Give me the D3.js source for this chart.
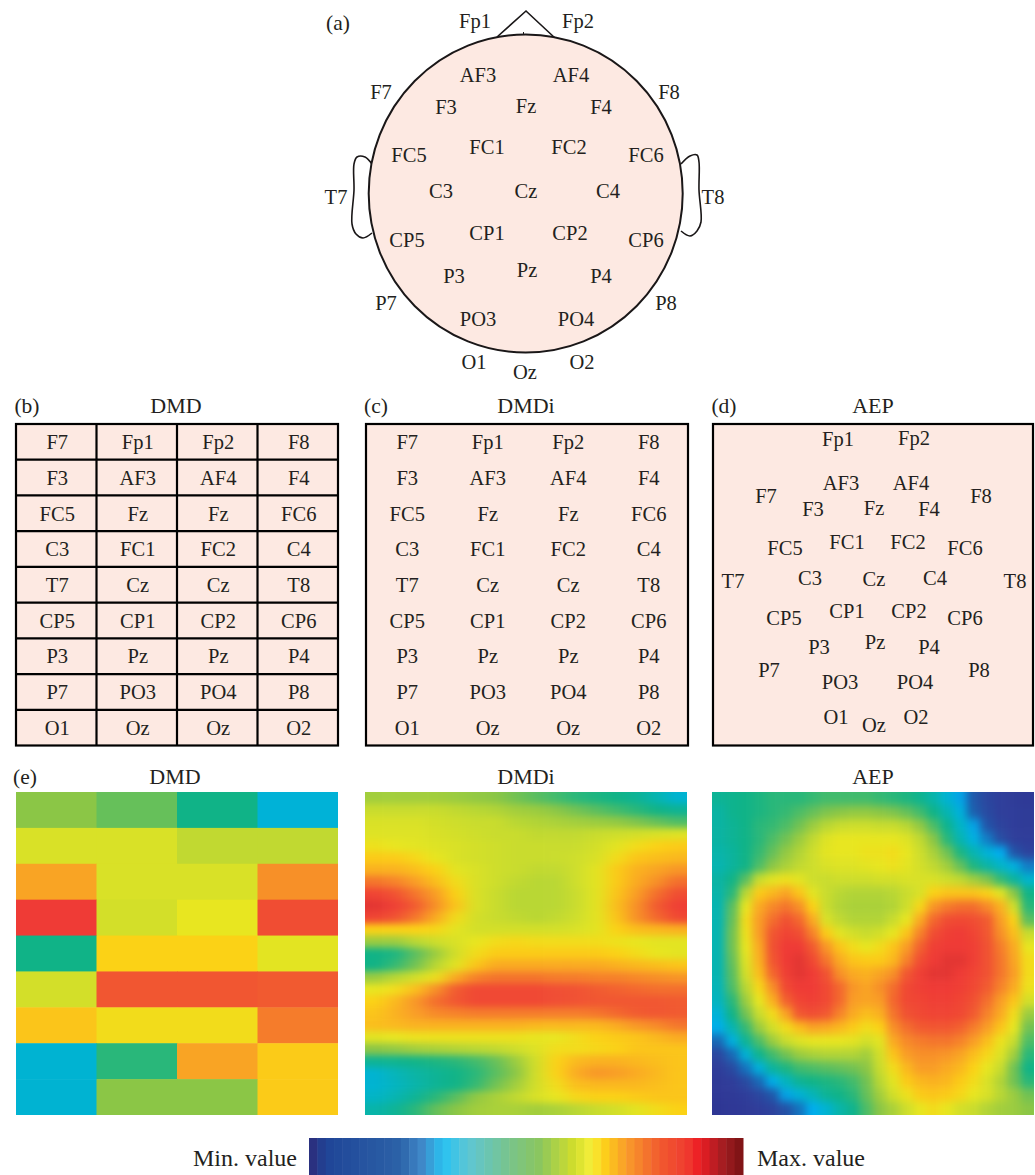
<!DOCTYPE html>
<html>
<head>
<meta charset="utf-8">
<title>EEG channel maps</title>
<script src="https://cdn.jsdelivr.net/npm/d3@7"></script>
<style>
  html, body { margin: 0; padding: 0; background: #fff; }
  svg { display: block; }
  text { font-family: "Liberation Serif", serif; fill: #231f20; }
</style>
</head>
<body>
<div id="chart"></div>
<script>
// channel order used by the (b), (c) grids and the DMD heat map
var gridRows = [
  ["F7", "Fp1", "Fp2", "F8"],
  ["F3", "AF3", "AF4", "F4"],
  ["FC5", "Fz", "Fz", "FC6"],
  ["C3", "FC1", "FC2", "C4"],
  ["T7", "Cz", "Cz", "T8"],
  ["CP5", "CP1", "CP2", "CP6"],
  ["P3", "Pz", "Pz", "P4"],
  ["P7", "PO3", "PO4", "P8"],
  ["O1", "Oz", "Oz", "O2"]
];

// head map labels, panel (a)
var headLabels = ["Fp1", "Fp2", "AF3", "AF4", "F7", "F8", "F3", "Fz", "F4", "FC1", "FC2", "FC5", "FC6", "T7", "T8", "C3", "Cz", "C4", "CP1", "CP2", "CP5", "CP6", "P3", "Pz", "P4", "P7", "P8", "PO3", "PO4", "O1", "O2", "Oz"];
var headX = [475, 578, 478, 571, 381, 669, 446, 526, 601, 487, 569, 409, 646, 336, 713, 441, 526, 608, 487, 570, 407, 646, 454, 527, 601, 386, 666, 478, 576, 474, 582, 525];
var headY = [21, 21, 75, 75, 92, 92, 107, 106, 107, 147, 147, 155, 155, 197, 197, 191, 191, 191, 233, 233, 240, 240, 276, 270, 276, 303, 303, 319, 319, 362, 362, 372];

// AEP projection labels, panel (d)
var aepLabels = ["Fp1", "Fp2", "AF3", "AF4", "F7", "F8", "F3", "Fz", "F4", "FC1", "FC2", "FC5", "FC6", "T7", "T8", "C3", "Cz", "C4", "CP1", "CP2", "CP5", "CP6", "P3", "Pz", "P4", "P7", "P8", "PO3", "PO4", "O1", "O2", "Oz"];
var aepX = [838, 914, 841, 911, 766, 981, 813, 874, 929, 847, 908, 785, 965, 733, 1015, 810, 874, 935, 847, 909, 784, 965, 819, 875, 929, 769, 979, 840, 915, 836, 916, 874];
var aepY = [439, 438, 483, 483, 496, 496, 509, 508, 509, 542, 542, 548, 548, 581, 581, 578, 579, 578, 611, 611, 618, 618, 647, 642, 647, 670, 670, 682, 682, 717, 717, 725];

// heat map values, 0 = min, 1 = max
var dmdValues = [
  [.52, .49, .42, .30],
  [.63, .63, .59, .59],
  [.77, .63, .63, .80],
  [.95, .62, .66, .91],
  [.42, .70, .70, .65],
  [.62, .89, .89, .88],
  [.72, .68, .68, .83],
  [.31, .44, .77, .71],
  [.31, .52, .52, .71]
];

var dmdiValues = [
  [.55,.55,.55,.55,.54,.53,.52,.50,.48,.46,.44,.43,.42,.40,.36,.31],
  [.60,.60,.60,.60,.59,.58,.57,.55,.54,.52,.50,.48,.46,.44,.42,.40],
  [.63,.63,.63,.62,.61,.60,.60,.58,.57,.56,.55,.54,.53,.51,.49,.47],
  [.64,.64,.64,.63,.62,.61,.60,.60,.59,.59,.59,.60,.61,.62,.63,.64],
  [.67,.66,.65,.64,.63,.62,.61,.60,.60,.60,.60,.62,.65,.68,.70,.71],
  [.71,.71,.69,.66,.63,.62,.61,.60,.60,.60,.61,.63,.68,.72,.73,.74],
  [.75,.75,.73,.70,.65,.63,.61,.60,.59,.59,.61,.65,.71,.75,.77,.79],
  [.84,.82,.78,.73,.68,.63,.61,.59,.58,.58,.61,.65,.71,.76,.80,.85],
  [.93,.90,.84,.78,.70,.63,.60,.58,.58,.58,.60,.65,.72,.78,.85,.91],
  [.96,.94,.88,.80,.72,.63,.60,.58,.58,.58,.60,.65,.73,.80,.88,.94],
  [.93,.90,.84,.76,.68,.62,.60,.59,.58,.59,.61,.65,.72,.80,.86,.92],
  [.70,.70,.70,.69,.65,.62,.62,.62,.62,.62,.63,.65,.70,.73,.74,.75],
  [.54,.54,.58,.61,.63,.66,.68,.69,.68,.68,.68,.68,.67,.66,.65,.65],
  [.42,.43,.48,.54,.62,.68,.71,.71,.71,.71,.71,.71,.70,.68,.66,.65],
  [.42,.45,.50,.58,.65,.72,.76,.76,.76,.76,.76,.76,.75,.74,.73,.72],
  [.54,.58,.62,.67,.76,.82,.84,.84,.84,.83,.83,.82,.82,.81,.80,.79],
  [.66,.68,.73,.80,.88,.92,.92,.92,.92,.91,.90,.88,.87,.86,.85,.85],
  [.70,.74,.79,.85,.89,.92,.92,.92,.92,.91,.90,.89,.89,.89,.89,.88],
  [.72,.75,.78,.81,.82,.83,.83,.83,.83,.83,.83,.84,.86,.88,.89,.88],
  [.73,.74,.75,.75,.75,.75,.75,.75,.74,.74,.74,.74,.76,.79,.81,.84],
  [.65,.66,.67,.67,.67,.67,.67,.67,.66,.66,.68,.70,.71,.72,.74,.76],
  [.52,.53,.55,.56,.57,.58,.59,.61,.64,.68,.68,.69,.70,.72,.72,.72],
  [.40,.41,.42,.43,.44,.46,.49,.54,.62,.70,.74,.75,.75,.74,.73,.72],
  [.31,.35,.38,.40,.42,.44,.48,.52,.62,.70,.76,.79,.78,.76,.74,.72],
  [.31,.34,.37,.40,.42,.45,.50,.55,.62,.68,.73,.74,.74,.74,.73,.72],
  [.33,.36,.40,.44,.48,.53,.56,.59,.63,.66,.69,.70,.70,.71,.72,.72],
  [.37,.40,.44,.49,.52,.55,.56,.56,.55,.56,.58,.60,.62,.65,.68,.70]
];

var aepValues = [
  [.40,.41,.42,.43,.44,.44,.44,.45,.46,.46,.46,.46,.45,.44,.43,.41,.37,.31,.24,.15,.10,.08,.06,.05],
  [.38,.41,.42,.43,.44,.45,.47,.49,.51,.52,.53,.53,.52,.51,.49,.46,.42,.36,.29,.17,.11,.08,.07,.06],
  [.38,.40,.42,.44,.45,.47,.50,.54,.58,.60,.61,.61,.60,.60,.58,.53,.47,.41,.33,.24,.14,.09,.07,.06],
  [.38,.40,.42,.44,.47,.50,.54,.59,.64,.66,.66,.66,.66,.66,.64,.59,.52,.44,.36,.28,.20,.12,.08,.07],
  [.37,.39,.42,.45,.49,.53,.57,.61,.65,.66,.66,.67,.67,.68,.66,.61,.56,.50,.43,.36,.30,.25,.14,.09],
  [.36,.39,.42,.47,.52,.56,.59,.61,.63,.64,.64,.65,.66,.67,.65,.62,.59,.55,.49,.43,.38,.33,.28,.20],
  [.38,.42,.48,.60,.65,.67,.65,.61,.60,.61,.61,.61,.62,.62,.63,.63,.63,.61,.59,.55,.51,.45,.39,.32],
  [.37,.44,.58,.71,.74,.77,.72,.65,.60,.58,.57,.57,.57,.58,.60,.63,.70,.72,.72,.72,.70,.65,.52,.42],
  [.36,.48,.66,.76,.81,.84,.80,.70,.60,.57,.56,.56,.56,.57,.61,.69,.79,.83,.85,.85,.81,.75,.62,.44],
  [.36,.49,.68,.78,.85,.90,.86,.76,.63,.59,.57,.57,.57,.60,.66,.76,.86,.91,.92,.91,.88,.78,.70,.48],
  [.36,.50,.67,.78,.89,.93,.91,.82,.71,.65,.62,.60,.62,.66,.72,.82,.91,.94,.95,.93,.89,.80,.73,.60],
  [.36,.50,.66,.76,.90,.95,.95,.88,.79,.72,.68,.66,.68,.72,.78,.87,.94,.95,.95,.94,.90,.83,.76,.66],
  [.36,.49,.64,.75,.89,.95,.96,.92,.84,.76,.72,.71,.71,.74,.82,.91,.95,.96,.96,.94,.90,.84,.77,.68],
  [.36,.48,.62,.73,.86,.94,.96,.95,.90,.80,.76,.75,.77,.80,.89,.94,.96,.96,.95,.93,.90,.84,.78,.68],
  [.35,.47,.58,.69,.80,.92,.95,.95,.92,.86,.79,.77,.80,.85,.92,.94,.95,.95,.94,.92,.88,.82,.76,.67],
  [.34,.44,.54,.66,.75,.87,.93,.94,.92,.86,.78,.77,.78,.86,.92,.93,.94,.94,.93,.90,.85,.78,.72,.62],
  [.30,.42,.50,.60,.68,.77,.89,.91,.89,.82,.76,.73,.75,.84,.90,.92,.93,.93,.92,.88,.82,.76,.68,.54],
  [.26,.36,.45,.54,.62,.68,.73,.77,.76,.74,.71,.68,.70,.80,.85,.88,.89,.89,.87,.83,.78,.72,.66,.50],
  [.18,.28,.40,.47,.54,.60,.64,.66,.66,.66,.65,.62,.65,.76,.81,.83,.84,.84,.82,.78,.73,.67,.60,.47],
  [.10,.18,.30,.41,.46,.50,.54,.56,.57,.57,.57,.55,.62,.72,.78,.80,.80,.79,.77,.73,.69,.64,.55,.44],
  [.07,.11,.19,.29,.39,.43,.46,.47,.48,.49,.50,.52,.60,.68,.74,.78,.78,.76,.74,.70,.66,.60,.50,.42],
  [.05,.07,.11,.18,.26,.34,.40,.42,.43,.44,.46,.50,.58,.65,.71,.74,.75,.74,.71,.68,.63,.57,.50,.44],
  [.04,.05,.07,.10,.15,.24,.30,.35,.40,.42,.44,.49,.55,.62,.67,.71,.72,.71,.69,.66,.63,.58,.54,.50],
  [.03,.04,.05,.07,.09,.13,.19,.25,.31,.37,.41,.47,.52,.56,.61,.66,.68,.66,.62,.60,.57,.55,.54,.52]
];

// colour ramps
var heatStops = [0, .08, .17, .25, .32, .42, .52, .60, .66, .70, .78, .88, .95, 1];
var heatColors = ["#2e3190", "#2f3f9b", "#1c5fae", "#00aeef", "#00b4cd", "#10b387", "#8bc646", "#c9dc2e", "#e8e620", "#fbd216", "#f99d26", "#f15a30", "#ef3b36", "#b52025"];
var legendStops = [0, .03, .2, .25, .3, .36, .45, .52, .6, .64, .67, .72, .8, .86, .89, .94, 1];
var legendColors = ["#2a3180", "#1f4597", "#2c62a8", "#3f88c8", "#29c3f2", "#5fc6d2", "#78c48d", "#8ac65f", "#d0dd2c", "#f5ee3a", "#fdd11a", "#f99d2a", "#f1592f", "#ef3d30", "#ed1c24", "#a81e22", "#6e0f10"];
var legendSteps = d3.range(0, 1, 1 / 52);

var inkColor = "#1a1718",
    skinColor = "#fde9e2",
    fontSize = 20.5,
    titleSize = 22;

var svg = d3.select("#chart").append("svg")
    .attr("width", 1035)
    .attr("height", 1175);

var defs = svg.append("defs");

var heatColor = d3.scaleLinear().domain(heatStops).range(heatColors).clamp(true);
var legendColor = d3.scaleLinear().domain(legendStops).range(legendColors);

function label(g, text, x, y, size) {
  return g.append("text")
      .attr("x", x)
      .attr("y", y)
      .attr("dy", "0.33em")
      .attr("text-anchor", "middle")
      .attr("font-size", size || fontSize)
      .text(text);
}

function _drawHead() {
  var g = svg.append("g").attr("class", "head");
  var line = d3.line().curve(d3.curveCatmullRom.alpha(0.5));

  // nose and ears go behind the scalp
  g.append("path")
      .attr("d", d3.line()([[497, 37], [526, 11], [555, 38]]))
      .attr("fill", "none").attr("stroke", inkColor).attr("stroke-width", 1.6);
  g.append("path")
      .attr("d", line([[372, 164], [365, 157], [357, 157], [354, 164], [354, 190], [352, 224], [356, 234], [363, 238], [372, 233]]))
      .attr("fill", "none").attr("stroke", inkColor).attr("stroke-width", 1.6);
  g.append("path")
      .attr("d", line([[681, 164], [690, 156], [697, 155], [699, 162], [699, 190], [701, 222], [697, 231], [690, 236], [681, 231]]))
      .attr("fill", "none").attr("stroke", inkColor).attr("stroke-width", 1.6);

  g.append("ellipse")
      .attr("cx", 525.7)
      .attr("cy", 193.5)
      .attr("rx", 157)
      .attr("ry", 159)
      .attr("fill", skinColor)
      .attr("stroke", inkColor)
      .attr("stroke-width", 2);

  g.append("line")
      .attr("x1", 523.5).attr("x2", 523.5)
      .attr("y1", 32).attr("y2", 35)
      .attr("stroke", inkColor).attr("stroke-width", 1);

  g.selectAll("text.ch").data(headLabels).enter().append("text")
      .attr("class", "ch")
      .attr("x", function (d, i) { return headX[i]; })
      .attr("y", function (d, i) { return headY[i]; })
      .attr("dy", "0.33em")
      .attr("text-anchor", "middle")
      .attr("font-size", fontSize)
      .text(function (d) { return d; });
}

function _drawGrid(x0, withLines) {
  var width = 322, top = 424, height = 321.5;
  var x = d3.scaleBand().domain(d3.range(4)).range([x0, x0 + width]);
  var y = d3.scaleBand().domain(d3.range(gridRows.length)).range([top, top + height]);
  var g = svg.append("g");

  g.append("rect")
      .attr("x", x0).attr("y", top)
      .attr("width", width).attr("height", height)
      .attr("fill", skinColor)
      .attr("stroke", "#000")
      .attr("stroke-width", 2.2);

  if (withLines) {
    g.selectAll("line.v").data(d3.range(1, 4)).enter().append("line")
        .attr("x1", function (d) { return x(d); }).attr("x2", function (d) { return x(d); })
        .attr("y1", top).attr("y2", top + height)
        .attr("stroke", "#000").attr("stroke-width", 2.2);
    g.selectAll("line.h").data(d3.range(1, gridRows.length)).enter().append("line")
        .attr("y1", function (d) { return y(d); }).attr("y2", function (d) { return y(d); })
        .attr("x1", x0).attr("x2", x0 + width)
        .attr("stroke", "#000").attr("stroke-width", 2.2);
  }

  gridRows.forEach(function (row, r) {
    row.forEach(function (name, c) {
      label(g, name, x(c) + x.bandwidth() / 2 + 1, y(r) + y.bandwidth() / 2 + 0.5);
    });
  });
}

function _drawAepLabels() {
  var g = svg.append("g");
  g.append("rect")
      .attr("x", 713).attr("y", 424)
      .attr("width", 320).attr("height", 321.5)
      .attr("fill", skinColor)
      .attr("stroke", "#000")
      .attr("stroke-width", 2.2);

  g.selectAll("text.ch").data(aepLabels).enter().append("text")
      .attr("class", "ch")
      .attr("x", function (d, i) { return aepX[i]; })
      .attr("y", function (d, i) { return aepY[i]; })
      .attr("dy", "0.33em")
      .attr("text-anchor", "middle")
      .attr("font-size", fontSize)
      .text(function (d) { return d; });
}

// blur smooths the cells; edge cells run past the clip so the blur has no border fade
function _drawHeat(name, values, x0, blur) {
  var size = 322, top = 792, bleed = blur ? 40 : 0;
  var rows = values.length, cols = values[0].length;
  var x = d3.scaleBand().domain(d3.range(cols)).range([x0, x0 + size]);
  var y = d3.scaleBand().domain(d3.range(rows)).range([top, top + size + 1]);

  defs.append("clipPath").attr("id", "clip-" + name)
    .append("rect").attr("x", x0).attr("y", top).attr("width", size).attr("height", size + 1);

  var g = svg.append("g").attr("clip-path", "url(#clip-" + name + ")")
    .append("g");

  if (blur) {
    defs.append("filter").attr("id", "blur-" + name)
        .attr("filterUnits", "userSpaceOnUse")
        .attr("x", x0 - 40).attr("y", top - 40)
        .attr("width", size + 80).attr("height", size + 80)
        .attr("color-interpolation-filters", "sRGB")
      .append("feGaussianBlur").attr("stdDeviation", blur);
    g.attr("filter", "url(#blur-" + name + ")");
  }

  var cells = [];
  values.forEach(function (row, r) {
    row.forEach(function (v, c) { cells.push({r: r, c: c, v: v}); });
  });

  g.selectAll("rect").data(cells).enter().append("rect")
      .attr("x", function (d) { return x(d.c) - (d.c === 0 ? bleed : 0); })
      .attr("y", function (d) { return y(d.r) - (d.r === 0 ? bleed : 0); })
      .attr("width", function (d) { return x.bandwidth() + 0.5 + (d.c === 0 || d.c === cols - 1 ? bleed : 0); })
      .attr("height", function (d) { return y.bandwidth() + 0.5 + (d.r === 0 || d.r === rows - 1 ? bleed : 0); })
      .attr("fill", function (d) { return heatColor(d.v); });
}

function _drawLegend() {
  var x = d3.scaleBand().domain(legendSteps).range([309, 743]);
  svg.append("g").selectAll("rect").data(legendSteps).enter().append("rect")
      .attr("x", function (d) { return x(d); })
      .attr("y", 1138)
      .attr("width", x.bandwidth() + 0.5)
      .attr("height", 37)
      .attr("fill", function (d) { return legendColor(d); });
  label(svg, "Min. value", 245, 1158, 24);
  label(svg, "Max. value", 811, 1158, 24);
}

_drawHead();
_drawGrid(16, true);
_drawGrid(366, false);
_drawAepLabels();
_drawHeat("dmd", dmdValues, 16, 0);
_drawHeat("dmdi", dmdiValues, 365, "8 3.5");
_drawHeat("aep", aepValues, 712, 4);
_drawLegend();

label(svg, "(a)", 338, 23, 21.5);
label(svg, "(b)", 27, 406, 21.5);
label(svg, "DMD", 176, 406, titleSize);
label(svg, "(c)", 376, 406, 21.5);
label(svg, "DMDi", 526, 406, titleSize);
label(svg, "(d)", 724, 406, 21.5);
label(svg, "AEP", 873, 406, titleSize);
label(svg, "(e)", 25, 777, 21.5);
label(svg, "DMD", 175, 777, titleSize);
label(svg, "DMDi", 526, 777, titleSize);
label(svg, "AEP", 873, 777, titleSize);
</script>
</body>
</html>
